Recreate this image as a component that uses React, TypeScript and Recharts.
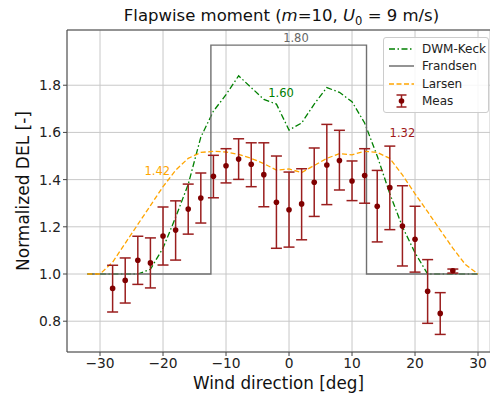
import React from 'react'
import {
  ComposedChart, Line, Scatter, ErrorBar, XAxis, YAxis, CartesianGrid,
  ReferenceLine, ReferenceDot, Label,
} from 'recharts'

// Measurements (wind direction in deg, normalized DEL)
const measDir = [-28, -26, -24, -22, -20, -18, -16, -14, -12, -10, -8, -6, -4, -2, 0, 2, 4, 6, 8, 10, 12, 14, 16, 18, 20, 22, 24, 26]
const measMean = [0.939, 0.973, 1.058, 1.047, 1.161, 1.186, 1.275, 1.322, 1.414, 1.459, 1.487, 1.465, 1.421, 1.304, 1.272, 1.297, 1.389, 1.462, 1.481, 1.394, 1.417, 1.287, 1.366, 1.203, 1.147, 0.927, 0.833, 1.014]
const measLow = [0.839, 0.877, 0.956, 0.941, 1.038, 1.059, 1.169, 1.216, 1.323, 1.386, 1.401, 1.37, 1.285, 1.109, 1.114, 1.145, 1.244, 1.294, 1.356, 1.311, 1.3, 1.136, 1.188, 1.034, 1.008, 0.791, 0.744, 1.004]
const measHigh = [1.037, 1.068, 1.16, 1.153, 1.284, 1.31, 1.381, 1.428, 1.503, 1.531, 1.573, 1.556, 1.556, 1.5, 1.432, 1.446, 1.534, 1.634, 1.609, 1.479, 1.531, 1.439, 1.542, 1.374, 1.287, 1.061, 0.921, 1.021]

// Model curves
const simDir = [-32, -30, -28, -26, -24, -22, -20, -18, -16, -14, -12, -10, -8, -6, -4, -2, 0, 2, 4, 6, 8, 10, 12, 14, 16, 18, 20, 22, 24, 26, 28, 30]
const dwmKeck = [1.0, 1.0, 1.0, 1.0, 1.0, 1.02, 1.11, 1.24, 1.38, 1.58, 1.69, 1.76, 1.84, 1.79, 1.74, 1.72, 1.61, 1.64, 1.72, 1.79, 1.77, 1.73, 1.64, 1.5, 1.34, 1.2, 1.09, 1.0, 1.0, 1.0, 1.0, 1.0]
const larsen = [1.0, 1.0, 1.05, 1.13, 1.21, 1.29, 1.37, 1.44, 1.49, 1.515, 1.52, 1.517, 1.507, 1.49, 1.468, 1.44, 1.445, 1.43, 1.46, 1.49, 1.51, 1.505, 1.52, 1.515, 1.49, 1.42, 1.34, 1.264, 1.186, 1.11, 1.04, 1.0]

const frandsenDir = [-32, -12.4, -12.4, 12.3, 12.3, 30]
const frandsenVal = [1.0, 1.0, 1.97, 1.97, 1.0, 1.0]

const xTicks = [-30, -20, -10, 0, 10, 20, 30]
const yTicks = [0.8, 1.0, 1.2, 1.4, 1.6, 1.8]

const X_DOMAIN: [number, number] = [-35.24, 31.9]
const Y_DOMAIN: [number, number] = [0.6695, 2.034]

const C_DWM = 'green'
const C_FRA = '#707070'
const C_LAR = 'orange'
const C_MEAS = '#800000'
const C_BAR = '#9a1e1e'

const measData = measDir.map((x, i) => ({
  x,
  y: measMean[i],
  err: [measMean[i] - measLow[i], measHigh[i] - measMean[i]],
}))
const dwmData = simDir.map((x, i) => ({ x, y: dwmKeck[i] }))
const larData = simDir.map((x, i) => ({ x, y: larsen[i] }))
const fraData = frandsenDir.map((x, i) => ({ x, y: frandsenVal[i] }))

const font = "'DejaVu Sans', sans-serif"

function LegendBox() {
  const rows = [
    { name: 'DWM-Keck', icon: <line x1={2} y1={8} x2={27} y2={8} stroke={C_DWM} strokeWidth={1.5} strokeDasharray="6 2.5 1.5 2.5" /> },
    { name: 'Frandsen', icon: <line x1={2} y1={8} x2={27} y2={8} stroke={C_FRA} strokeWidth={1.5} /> },
    { name: 'Larsen', icon: <line x1={2} y1={8} x2={27} y2={8} stroke={C_LAR} strokeWidth={1.5} strokeDasharray="5 2.5" /> },
    {
      name: 'Meas',
      icon: (
        <g stroke={C_BAR} strokeWidth={1.5}>
          <line x1={14.5} y1={2} x2={14.5} y2={14} />
          <line x1={9.5} y1={2} x2={19.5} y2={2} />
          <line x1={9.5} y1={14} x2={19.5} y2={14} />
          <circle cx={14.5} cy={8} r={2.8} fill={C_MEAS} stroke="none" />
        </g>
      ),
    },
  ]
  return (
    <div style={s.legend}>
      {rows.map(r => (
        <div key={r.name} style={s.legendRow}>
          <svg width={30} height={16} style={{ display: 'block', flexShrink: 0 }}>{r.icon}</svg>
          <span style={s.legendText}>{r.name}</span>
        </div>
      ))}
    </div>
  )
}

export default function App() {
  return (
    <div style={s.page}>
      <style>{'body{margin:0}'}</style>
      <ComposedChart width={490} height={394} margin={{ top: 30, right: 0, bottom: 0, left: 0 }}>
        <CartesianGrid stroke="#c8c8c8" strokeWidth={1} />
        <XAxis
          dataKey="x"
          type="number"
          domain={X_DOMAIN}
          ticks={xTicks}
          allowDataOverflow
          height={42}
          stroke="#444"
          tickSize={4}
          tick={{ fill: '#222', fontSize: 13.8, fontFamily: font }}
          tickFormatter={(v: number) => (v < 0 ? `\u2212${Math.abs(v)}` : `${v}`)}
        >
          <Label value="Wind direction [deg]" position="insideBottom" offset={5} style={{ fill: '#111', fontSize: 16.8, fontFamily: font }} />
        </XAxis>
        <YAxis
          type="number"
          domain={Y_DOMAIN}
          ticks={yTicks}
          allowDataOverflow
          width={67}
          stroke="#444"
          tickSize={4}
          tick={{ fill: '#222', fontSize: 13.8, fontFamily: font }}
          tickFormatter={(v: number) => v.toFixed(1)}
        >
          <Label value="Normalized DEL [-]" angle={-90} position="insideLeft" offset={23} style={{ fill: '#111', fontSize: 17, fontFamily: font, textAnchor: 'middle' }} />
        </YAxis>
        <ReferenceLine y={Y_DOMAIN[1]} stroke="#444" strokeWidth={1} ifOverflow="visible" />
        <Line data={dwmData} dataKey="y" stroke={C_DWM} strokeWidth={1.3} strokeDasharray="6 2.5 1.5 2.5" dot={false} isAnimationActive={false} />
        <Line data={fraData} dataKey="y" stroke={C_FRA} strokeWidth={1.4} dot={false} isAnimationActive={false} />
        <Line data={larData} dataKey="y" stroke={C_LAR} strokeWidth={1.3} strokeDasharray="5 2.5" dot={false} isAnimationActive={false} />
        <Scatter
          data={measData}
          dataKey="y"
          isAnimationActive={false}
          shape={(p: any) => <circle cx={p.cx} cy={p.cy} r={2.8} fill={C_MEAS} />}
        >
          <ErrorBar dataKey="err" direction="y" width={5.5} stroke={C_BAR} strokeWidth={1.5} isAnimationActive={false} />
        </Scatter>
        <ReferenceDot x={1.1} y={2.0} r={0} ifOverflow="visible" label={{ value: '1.80', fill: '#666', fontSize: 11.5, fontFamily: font, position: 'center' }} />
        <ReferenceDot x={-1.27} y={1.767} r={0} ifOverflow="visible" label={{ value: '1.60', fill: C_DWM, fontSize: 11.5, fontFamily: font, position: 'center' }} />
        <ReferenceDot x={-20.9} y={1.438} r={0} ifOverflow="visible" label={{ value: '1.42', fill: C_LAR, fontSize: 11.5, fontFamily: font, position: 'center' }} />
        <ReferenceDot x={18.0} y={1.597} r={0} ifOverflow="visible" label={{ value: '1.32', fill: '#a01818', fontSize: 11.5, fontFamily: font, position: 'center' }} />
      </ComposedChart>
      <div style={s.title}>
        Flapwise moment (<i>m</i>=10, <i>U</i><sub style={{ fontSize: '0.7em', lineHeight: 0 }}>0</sub> = 9 m/s)
      </div>
      <div style={{ position: 'absolute', left: 383, top: 37 }}>
        <LegendBox />
      </div>
    </div>
  )
}

const s: Record<string, React.CSSProperties> = {
  page: { position: 'relative', width: 490, height: 394, overflow: 'hidden', background: '#fff' },
  title: {
    position: 'absolute',
    left: 0,
    top: 6,
    width: 563,
    textAlign: 'center',
    fontFamily: font,
    fontSize: 16.5,
    lineHeight: '20px',
    color: '#111',
    whiteSpace: 'nowrap',
  },
  legend: {
    background: 'rgba(255,255,255,0.85)',
    border: '1px solid #ccc',
    borderRadius: 3,
    padding: '2px 4px 2px 3px',
    width: 106,
    boxSizing: 'border-box',
  },
  legendRow: { display: 'flex', alignItems: 'center', height: 17.5, gap: 5, whiteSpace: 'nowrap' },
  legendText: { fontFamily: font, fontSize: 12, color: '#222' },
}
